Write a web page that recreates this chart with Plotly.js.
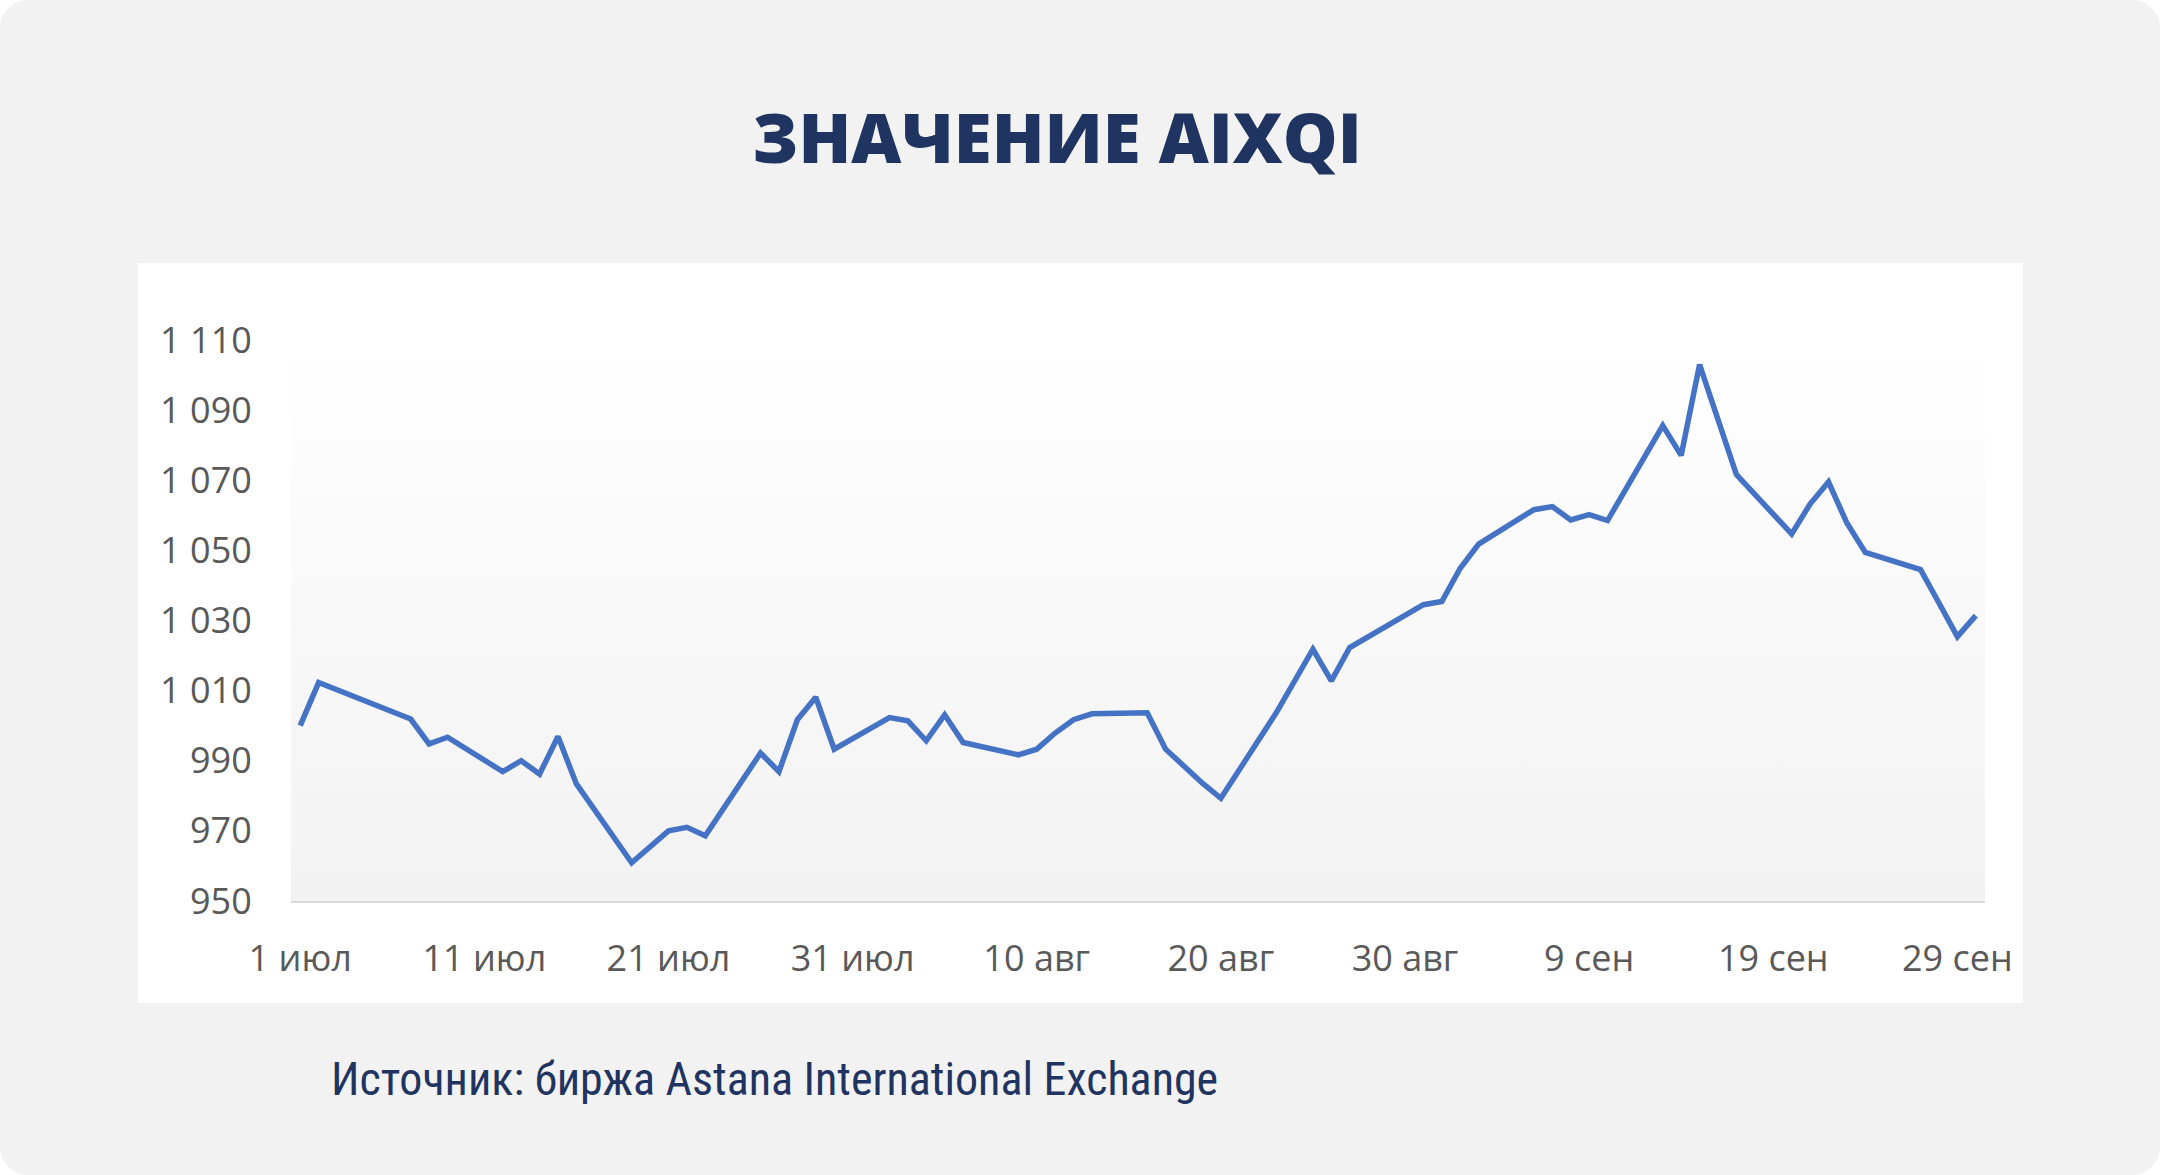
<!DOCTYPE html>
<html>
<head>
<meta charset="utf-8">
<script src="https://cdn.plot.ly/plotly-3.0.1.min.js"></script>
<style>
  body { margin: 0; background: #ffffff; }
  #card { position: absolute; left: 0; top: 0; width: 2160px; height: 1175px; background: #f2f2f2; border-radius: 28px; }
  #panel { position: absolute; left: 138px; top: 263px; width: 1885px; height: 740px; background: #ffffff; }
  #plotbg { position: absolute; left: 291px; top: 340px; width: 1694px; height: 561px;
            background: linear-gradient(to bottom, #ffffff 0%, #f2f2f3 100%); }
  #chart { position: absolute; left: 0; top: 0; width: 2160px; height: 1175px; }
</style>
</head>
<body>
<div id="card"></div>
<div id="panel"></div>
<div id="plotbg"></div>
<div id="chart"></div>
<script>
// trading days, 2021
var dates = [
  '2021-07-01', '2021-07-02', '2021-07-07', '2021-07-08', '2021-07-09',
  '2021-07-12', '2021-07-13', '2021-07-14', '2021-07-15', '2021-07-16',
  '2021-07-19', '2021-07-21', '2021-07-22', '2021-07-23',
  '2021-07-26', '2021-07-27', '2021-07-28', '2021-07-29', '2021-07-30',
  '2021-08-02', '2021-08-03', '2021-08-04', '2021-08-05', '2021-08-06',
  '2021-08-09', '2021-08-10', '2021-08-11', '2021-08-12', '2021-08-13',
  '2021-08-16', '2021-08-17', '2021-08-19', '2021-08-20',
  '2021-08-23', '2021-08-25', '2021-08-26', '2021-08-27',
  '2021-08-31', '2021-09-01', '2021-09-02', '2021-09-03',
  '2021-09-06', '2021-09-07', '2021-09-08', '2021-09-09', '2021-09-10',
  '2021-09-13', '2021-09-14', '2021-09-15', '2021-09-17',
  '2021-09-20', '2021-09-21', '2021-09-22', '2021-09-23', '2021-09-24',
  '2021-09-27', '2021-09-28', '2021-09-29', '2021-09-30'
];

// index value
var aixqi = [
  1000.0, 1012.3, 1001.9, 994.8, 996.7,
  986.9, 990.0, 986.2, 996.9, 983.4,
  960.9, 970.0, 971.0, 968.6,
  992.2, 986.9, 1001.7, 1008.1, 993.3,
  1002.3, 1001.4, 995.7, 1003.1, 995.2,
  991.7, 993.3, 997.9, 1001.7, 1003.4,
  1003.7, 993.3, 983.6, 979.3,
  1003.6, 1021.8, 1012.8, 1022.3,
  1034.5, 1035.4, 1044.9, 1051.8,
  1061.6, 1062.5, 1058.7, 1060.2, 1058.5,
  1085.6, 1077.1, 1103.0, 1071.6,
  1054.7, 1063.2, 1069.5, 1057.8, 1049.4,
  1044.5, 1035.0, 1025.4, 1031.4
];

// x tick labels
var xTickDates = ['2021-07-01', '2021-07-11', '2021-07-21', '2021-07-31', '2021-08-10',
                  '2021-08-20', '2021-08-30', '2021-09-09', '2021-09-19', '2021-09-29'];
var xTickText = ['1 июл', '11 июл', '21 июл', '31 июл', '10 авг',
                 '20 авг', '30 авг', '9 сен', '19 сен', '29 сен'];

// y ticks
var yTicks = [950, 970, 990, 1010, 1030, 1050, 1070, 1090, 1110];

var trace = {
  x: dates,
  y: aixqi,
  type: 'scatter',
  mode: 'lines',
  line: { color: '#4472c4', width: 5.5, shape: 'linear' },
  hoverinfo: 'skip'
};

var tickFont = { family: 'Open Sans, sans-serif', size: 36, color: '#595959' };

var layout = {
  width: 2160,
  height: 1175,
  margin: { l: 291, r: 175, t: 340, b: 274 },
  paper_bgcolor: 'rgba(0,0,0,0)',
  plot_bgcolor: 'rgba(0,0,0,0)',
  separators: ', ',
  showlegend: false,
  title: {
    text: 'ЗНАЧЕНИЕ AIXQI',
    font: { family: 'Open Sans, sans-serif', size: 69, color: '#1f3461', weight: 800 },
    x: 0.4894, xanchor: 'center',
    y: 0.882, yanchor: 'middle'
  },
  xaxis: {
    type: 'date',
    range: ['2021-06-30 12:00', '2021-09-30 12:00'],
    tickvals: xTickDates,
    ticktext: xTickText,
    tickfont: tickFont,
    ticks: 'outside', ticklen: 25, tickcolor: 'rgba(0,0,0,0)',
    showgrid: false,
    zeroline: false,
    showline: true, linecolor: '#d9d9d9', linewidth: 2
  },
  yaxis: {
    range: [950, 1110],
    tickvals: yTicks,
    separatethousands: true,
    tickfont: tickFont,
    ticks: 'outside', ticklen: 31, tickcolor: 'rgba(0,0,0,0)',
    showgrid: false,
    zeroline: false,
    showline: false
  },
  annotations: [{
    text: 'Источник: биржа Astana International Exchange',
    xref: 'paper', yref: 'paper',
    x: (329 - 291) / 1694, xanchor: 'left',
    y: -(1079 - 901) / 561, yanchor: 'middle',
    showarrow: false,
    font: { family: 'Liberation Sans Narrow, Roboto Condensed, Roboto, sans-serif', size: 46, color: '#1f3461', weight: 400 }
  }]
};

Plotly.newPlot('chart', [trace], layout, { staticPlot: true });
</script>
</body>
</html>
